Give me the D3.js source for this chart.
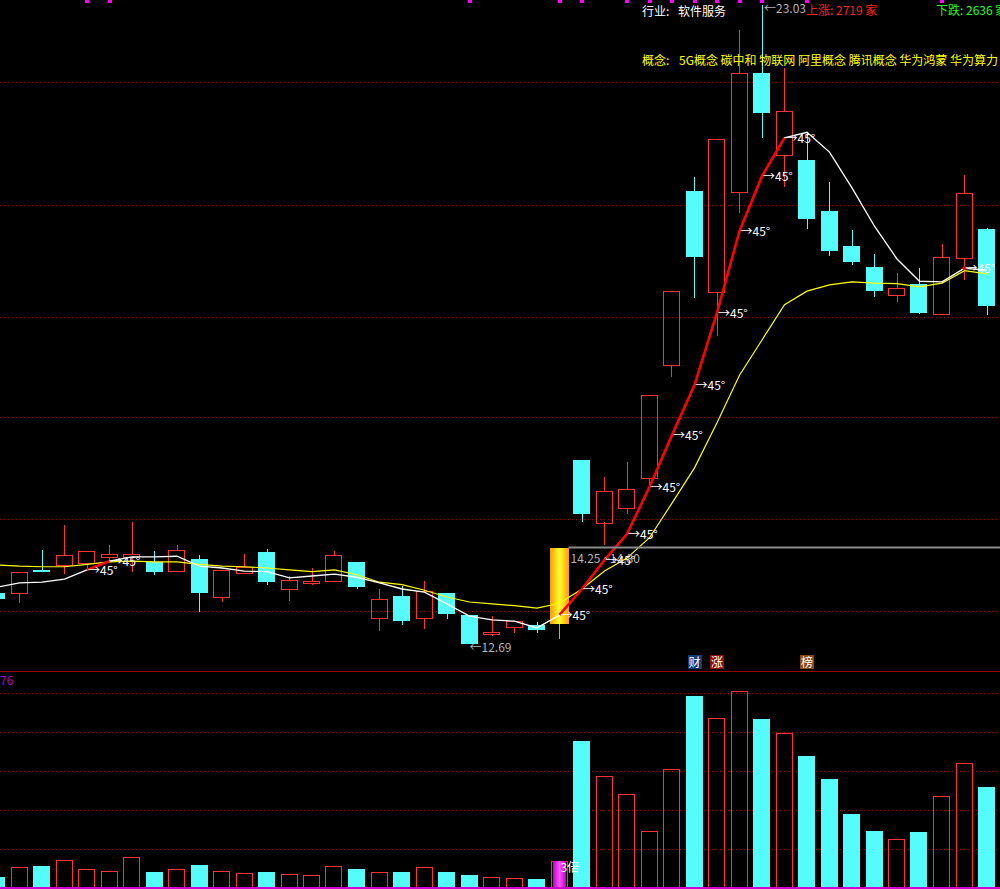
<!DOCTYPE html>
<html>
<head>
<meta charset="utf-8">
<script src="https://cdn.jsdelivr.net/npm/d3@7"></script>
<style>
body { margin: 0; background: #000; overflow: hidden; }
svg { display: block; }
text { font-family: "Noto Sans CJK SC", "DejaVu Sans", sans-serif; font-size: 12px; }
</style>
</head>
<body>
<svg id="chart"></svg>
<script>
// daily candles, oldest first (index 0 is cut by the left edge)
const opens  = [13.52, 13.52, 13.89, 13.97, 14.00, 14.10, 14.10, 14.02, 13.87, 14.07, 13.45, 13.84, 14.18, 13.58, 13.68,
                13.71, 14.02, 13.11, 13.47, 13.11, 13.52, 13.16, 12.85, 12.97, 13.00, 13.01, 15.67, 14.66, 14.89, 15.38,
                17.20, 20.02, 18.39, 20.00, 21.93, 20.60, 20.52, 19.70, 19.13, 18.79, 18.34, 18.52, 18.03, 18.94, 19.41];
const highs  = [13.55, 13.86, 14.21, 14.62, 14.20, 14.29, 14.66, 14.20, 14.29, 14.13, 13.89, 14.15, 14.23, 13.79, 13.92,
                14.20, 14.02, 13.58, 13.63, 13.71, 13.52, 13.16, 13.14, 13.06, 13.05, 14.25, 15.67, 15.39, 15.63, 16.72,
                18.40, 20.25, 20.86, 22.63, 23.03, 22.01, 20.97, 20.17, 19.39, 19.00, 18.69, 18.77, 19.16, 20.28, 19.42];
const lows   = [13.39, 13.35, 13.86, 13.82, 13.87, 14.00, 13.86, 13.81, 13.87, 13.21, 13.37, 13.84, 13.65, 13.39, 13.65,
                13.71, 13.58, 12.90, 13.00, 12.93, 13.09, 12.69, 12.82, 12.87, 12.87, 12.77, 14.66, 14.29, 14.79, 15.23,
                17.01, 18.29, 17.67, 19.66, 20.88, 20.09, 19.41, 18.97, 18.82, 18.31, 18.22, 18.03, 18.03, 18.58, 18.01];
const closes = [13.42, 13.86, 13.87, 14.13, 14.20, 14.15, 14.15, 13.86, 14.21, 13.52, 13.89, 13.94, 13.69, 13.73, 13.71,
                14.13, 13.61, 13.42, 13.06, 13.55, 13.18, 12.69, 12.88, 13.06, 12.92, 14.25, 14.79, 15.17, 15.20, 16.72,
                18.40, 18.95, 20.86, 21.93, 21.28, 21.31, 19.57, 19.05, 18.87, 18.40, 18.45, 18.05, 18.95, 19.99, 18.16];
const volumes = [4.3, 8.2, 8.6, 10.9, 7.4, 6.6, 12.1, 6.2, 7.4, 9.0, 6.6, 5.8, 6.2, 5.5, 5.1,
                 8.6, 7.4, 6.2, 6.2, 8.2, 6.2, 5.1, 4.3, 3.9, 3.5, 10.5, 57.3, 43.7, 36.6, 22.2,
                 46.4, 74.8, 66.3, 76.8, 65.9, 60.4, 51.4, 42.5, 28.8, 22.2, 19.1, 21.8, 35.9, 48.7, 39.4];

// moving averages as drawn
const ma5  = [13.61, 13.68, 13.69, 13.74, 13.89, 14.03, 14.10, 14.10, 14.11, 13.95, 13.92, 13.87, 13.86, 13.76, 13.79,
              13.82, 13.77, 13.68, 13.58, 13.53, 13.34, 13.14, 13.08, 13.06, 12.95, 13.16, 13.58, 14.05, 14.47, 15.23,
              16.07, 16.88, 18.05, 19.37, 20.26, 20.88, 20.97, 20.65, 20.07, 19.45, 18.92, 18.56, 18.55, 18.77, 18.74];
const ma10 = [13.97, 13.95, 13.94, 13.94, 13.98, 14.02, 14.03, 14.02, 14.02, 13.98, 13.95, 13.94, 13.92, 13.89, 13.86,
              13.89, 13.81, 13.69, 13.65, 13.56, 13.45, 13.37, 13.34, 13.31, 13.27, 13.35, 13.58, 13.87, 14.08, 14.41,
              14.97, 15.54, 16.27, 17.04, 17.61, 18.18, 18.40, 18.50, 18.55, 18.53, 18.52, 18.47, 18.53, 18.73, 18.68];

const priceGrid = [21.78, 19.79, 17.98, 16.35, 14.70, 13.21];
const volGrid = [15.2, 30.4, 45.6, 60.8, 76];
const volTopLabel = "76";

const steepRuns = [[4, 5], [25, 35]];          // ma5 stretches drawn red
const angleDays = [4, 5, 25, 26, 27, 28, 29, 30, 31, 32, 33, 34, 35, 43];
const signalDays = [4, 5, 21, 25, 26, 28, 29, 30, 31, 32, 33, 34, 36, 42];
const limitUpDay = 25;
const lowDay = 21, highDay = 34;
const rangeText = "14.25 ~14.80";
const badges = [
    { day: 31, text: "财", color: "#143c78" },
    { day: 32, text: "涨", color: "#8c1010" },
    { day: 36, text: "榜", color: "#8a4a14" }
];
const industry = "软件服务";
const upCount = 2719, downCount = 2636;
const concepts = ["5G概念", "碳中和", "物联网", "阿里概念", "腾讯概念", "华为鸿蒙", "华为算力"];

const W = 1000, H = 889;
const RED = "#ff3333", CYAN = "#54fcfc";

const svg = d3.select("#chart").attr("width", W).attr("height", H);
svg.append("rect").attr("width", W).attr("height", H).attr("fill", "#000");

const defs = svg.append("defs");
const gold = defs.append("linearGradient").attr("id", "gold");
gold.append("stop").attr("offset", "0%").attr("stop-color", "#ff9a00");
gold.append("stop").attr("offset", "50%").attr("stop-color", "#ffff30");
gold.append("stop").attr("offset", "100%").attr("stop-color", "#ff9a00");
const mag = defs.append("linearGradient").attr("id", "mag");
mag.append("stop").attr("offset", "0%").attr("stop-color", "#c000c8");
mag.append("stop").attr("offset", "50%").attr("stop-color", "#ff50ff");
mag.append("stop").attr("offset", "100%").attr("stop-color", "#c000c8");

const x = d3.scaleLinear().domain([0, 44]).range([-3, 987]);
const y = d3.scaleLinear().domain([12.69, 23.03]).range([644, 5]);
const yv = d3.scaleLinear().domain([0, 76]).range([888, 693]);
const px = v => Math.floor(v) + 0.5;
const days = d3.range(opens.length);
const isUp = i => closes[i] >= opens[i];

// grid
svg.append("g").selectAll("line").data(priceGrid).enter().append("line")
    .attr("x1", 0).attr("x2", W)
    .attr("y1", d => px(y(d))).attr("y2", d => px(y(d)))
    .attr("stroke", "#a80000").attr("stroke-dasharray", "1,3");
svg.append("g").selectAll("line").data(volGrid).enter().append("line")
    .attr("x1", 0).attr("x2", W)
    .attr("y1", d => px(yv(d))).attr("y2", d => px(yv(d)))
    .attr("stroke", "#a80000").attr("stroke-dasharray", "1,3");
svg.append("line").attr("x1", 0).attr("x2", W).attr("y1", 671.5).attr("y2", 671.5)
    .attr("stroke", "#9a0000");

// top signal ticks
svg.append("g").selectAll("rect").data(signalDays).enter().append("rect")
    .attr("x", d => Math.round(x(d)) - 2).attr("y", 0)
    .attr("width", 4).attr("height", 3).attr("fill", "#ff00ff");

// candles
const cg = svg.append("g").attr("shape-rendering", "crispEdges");
days.forEach(i => {
    const cx = px(x(i));
    const left = Math.floor(x(i) - 8.5);
    const top = y(Math.max(opens[i], closes[i]));
    const bot = y(Math.min(opens[i], closes[i]));
    if (i === limitUpDay) {
        cg.append("line").attr("x1", cx).attr("x2", cx).attr("y1", bot).attr("y2", y(lows[i]))
            .attr("stroke", "#ff9a00");
        cg.append("rect").attr("x", left - 1).attr("y", top).attr("width", 19).attr("height", bot - top)
            .attr("fill", "url(#gold)");
    } else if (isUp(i)) {
        cg.append("line").attr("x1", cx).attr("x2", cx).attr("y1", y(highs[i])).attr("y2", top).attr("stroke", RED);
        cg.append("line").attr("x1", cx).attr("x2", cx).attr("y1", bot).attr("y2", y(lows[i])).attr("stroke", RED);
        cg.append("rect").attr("x", left + 0.5).attr("y", Math.round(top) + 0.5)
            .attr("width", 16).attr("height", Math.max(1, Math.round(bot - top)))
            .attr("fill", "none").attr("stroke", RED);
    } else {
        cg.append("line").attr("x1", cx).attr("x2", cx).attr("y1", y(highs[i])).attr("y2", y(lows[i])).attr("stroke", CYAN);
        cg.append("rect").attr("x", left).attr("y", Math.round(top))
            .attr("width", 17).attr("height", Math.max(2, Math.round(bot - top)))
            .attr("fill", CYAN);
    }
});

// moving averages
const line = d3.line().x((d, i) => x(i)).y(d => y(d));
svg.append("path").datum(ma10).attr("d", line).attr("fill", "none").attr("stroke", "#ffff00").attr("stroke-width", 1.2);
svg.append("path").datum(ma5).attr("d", line).attr("fill", "none").attr("stroke", "#ffffff").attr("stroke-width", 1.3);

const steepLine = d3.line().x(d => x(d)).y(d => y(ma5[d]));
steepRuns.forEach(r => {
    svg.append("path").datum(d3.range(r[0], r[1] + 1)).attr("d", steepLine)
        .attr("fill", "none").attr("stroke", "#ff0000").attr("stroke-width", 2.6);
});
svg.append("circle").attr("cx", x(43)).attr("cy", y(ma5[43])).attr("r", 2).attr("fill", "#ff0000");

// range marker at the limit-up close
svg.append("line").attr("x1", x(limitUpDay) + 9).attr("x2", W)
    .attr("y1", y(closes[limitUpDay])).attr("y2", y(closes[limitUpDay]))
    .attr("stroke", "#8c8c8c").attr("stroke-width", 2);
svg.append("text").attr("x", x(limitUpDay) + 11).attr("y", y(closes[limitUpDay]) + 15)
    .attr("fill", "#b4b4b4").attr("font-size", "13px").text(rangeText);

svg.append("g").selectAll("text").data(angleDays).enter().append("text")
    .attr("x", d => x(d) + 1).attr("y", d => y(ma5[d]) + 5)
    .attr("fill", "#ffffff").attr("font-size", "13px").text("→45°");

// price extremes
svg.append("text").attr("x", x(lowDay)).attr("y", y(lows[lowDay]) + 8)
    .attr("fill", "#b4b4b4").attr("font-size", "13px").text("←" + lows[lowDay].toFixed(2));
svg.append("text").attr("x", x(highDay) + 2).attr("y", y(highs[highDay]) + 8)
    .attr("fill", "#b4b4b4").attr("font-size", "13px").text("←" + highs[highDay].toFixed(2));

// header
svg.append("text").attr("x", 642).attr("y", 16).attr("fill", "#ffffff").text("行业:");
svg.append("text").attr("x", 678).attr("y", 16).attr("fill", "#ffffff").text(industry);
svg.append("text").attr("x", 806).attr("y", 15).attr("fill", "#ff2020").text("上涨: " + upCount + " 家");
svg.append("text").attr("x", 936).attr("y", 15).attr("fill", "#20ff20").text("下跌: " + downCount + " 家");
svg.append("text").attr("x", 642).attr("y", 65).attr("fill", "#ffff00").text("概念:");
svg.append("text").attr("x", 679).attr("y", 65).attr("fill", "#ffff00").text(concepts.join(" "));

// badges
const bg = svg.append("g").selectAll("g").data(badges).enter().append("g");
bg.append("rect").attr("x", d => Math.round(x(d.day)) - 7).attr("y", 655).attr("width", 14).attr("height", 14)
    .attr("fill", d => d.color);
bg.append("text").attr("x", d => x(d.day)).attr("y", 667).attr("text-anchor", "middle")
    .attr("fill", "#ffffff").text(d => d.text);

// volume
const vg = svg.append("g").attr("shape-rendering", "crispEdges");
days.forEach(i => {
    const left = Math.floor(x(i) - 8.5);
    const top = Math.round(yv(volumes[i]));
    if (i === limitUpDay) {
        vg.append("rect").attr("x", left + 0.5).attr("y", top + 0.5).attr("width", 16).attr("height", 888 - top)
            .attr("fill", "none").attr("stroke", RED);
        vg.append("rect").attr("x", left + 2).attr("y", top).attr("width", 13).attr("height", 888 - top)
            .attr("fill", "url(#mag)");
    } else if (isUp(i)) {
        vg.append("rect").attr("x", left + 0.5).attr("y", top + 0.5).attr("width", 16).attr("height", 888 - top)
            .attr("fill", "none").attr("stroke", RED);
    } else {
        vg.append("rect").attr("x", left).attr("y", top).attr("width", 17).attr("height", 888 - top)
            .attr("fill", CYAN);
    }
});
svg.append("text").attr("x", x(limitUpDay) + 1).attr("y", yv(volumes[limitUpDay]) + 11)
    .attr("fill", "#ffffff").attr("font-size", "13px").text("3倍");
svg.append("line").attr("x1", 0).attr("x2", W).attr("y1", 888).attr("y2", 888)
    .attr("stroke", "#d000d0").attr("stroke-width", 2);
svg.append("text").attr("x", 0).attr("y", 685).attr("fill", "#b000c0").text(volTopLabel);
</script>
</body>
</html>
